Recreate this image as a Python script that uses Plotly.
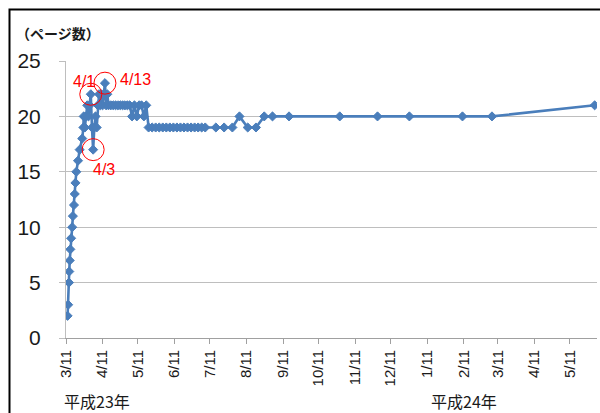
import plotly.graph_objects as go

# Page count of the published bulletin, by update time
dates = [
    "2011-03-12 08:00", "2011-03-12 20:00", "2011-03-13 12:00", "2011-03-13 18:00",
    "2011-03-14 04:00", "2011-03-14 16:00", "2011-03-15 08:00", "2011-03-16 06:00",
    "2011-03-16 20:00", "2011-03-17 18:00", "2011-03-18 10:00", "2011-03-19 00:00",
    "2011-03-19 18:00", "2011-03-21 04:00", "2011-03-22 14:00", "2011-03-24 18:00",
    "2011-03-25 18:00",
    "2011-03-26", "2011-03-27", "2011-03-28", "2011-03-29", "2011-03-30", "2011-03-31",
    "2011-04-01", "2011-04-02", "2011-04-03", "2011-04-04", "2011-04-05", "2011-04-06",
    "2011-04-07", "2011-04-08", "2011-04-09", "2011-04-10", "2011-04-11", "2011-04-12",
    "2011-04-13", "2011-04-14", "2011-04-15", "2011-04-16", "2011-04-18", "2011-04-20",
    "2011-04-22", "2011-04-24", "2011-04-26", "2011-04-28", "2011-04-30", "2011-05-02",
    "2011-05-04", "2011-05-06", "2011-05-08", "2011-05-10", "2011-05-12", "2011-05-14",
    "2011-05-16", "2011-05-18",
    "2011-05-20", "2011-05-23", "2011-05-26", "2011-05-29", "2011-06-01", "2011-06-04",
    "2011-06-07", "2011-06-10", "2011-06-13", "2011-06-16", "2011-06-19", "2011-06-22",
    "2011-06-25", "2011-06-28", "2011-07-01", "2011-07-04", "2011-07-07",
    "2011-07-16", "2011-07-23", "2011-07-30", "2011-08-05", "2011-08-12", "2011-08-19",
    "2011-08-26", "2011-09-02", "2011-09-16", "2011-10-29", "2011-11-30", "2011-12-27",
    "2012-02-10", "2012-03-06", "2012-06-01",
]
pages = [
    2, 3, 5, 6,
    7, 8, 9, 10,
    11, 12, 13, 14,
    15, 16, 17, 18,
    19,
    20, 19, 20, 21, 20, 21,
    22, 19, 17, 19, 20, 19,
    21, 22, 21, 22, 21, 22,
    23, 21, 22, 21, 21, 21,
    21, 21, 21, 21, 21, 21,
    21, 20, 21, 20, 21, 21,
    20, 21,
    19, 19, 19, 19, 19, 19,
    19, 19, 19, 19, 19, 19,
    19, 19, 19, 19, 19,
    19, 19, 19, 20, 19, 19,
    20, 20, 20, 20, 20, 20,
    20, 20, 21,
]

# Highlighted updates
marked_dates = ["2011-04-01", "2011-04-03", "2011-04-13"]
marked_labels = ["4/1", "4/3", "4/13"]
label_shift = [(-7, 13), (11, -20), (31, 4)]

x_tick_start = "2011-03-11"
x_end = "2012-06-03"
era_labels = ["平成23年", "平成24年"]
y_title = "（ページ数）"

W, H = 600, 413
L, R, T, B = 66, 3, 61, 75
PW, PH = W - L - R, H - T - B


def paper_x(p):
    return (p - L) / PW


def paper_y(p):
    return (H - B - p) / PH


BLUE = "#4A7EBB"
RED = "#FF0000"
GRID = "#BEBEBE"
TXT = "#1A1A1A"

marked_vals = [pages[dates.index(d)] for d in marked_dates]

fig = go.Figure()
fig.add_trace(go.Scatter(
    x=dates, y=pages, mode="lines+markers",
    line=dict(color=BLUE, width=2.6),
    marker=dict(symbol="diamond", size=7, color=BLUE, line=dict(color=BLUE, width=1)),
    showlegend=False, hoverinfo="skip",
))
fig.add_trace(go.Scatter(
    x=marked_dates, y=marked_vals, mode="markers",
    marker=dict(symbol="circle-open", size=22, color=RED, line=dict(color=RED, width=1)),
    showlegend=False, hoverinfo="skip",
))

annotations = []
for d, v, t, (dx, dy) in zip(marked_dates, marked_vals, marked_labels, label_shift):
    annotations.append(dict(
        x=d, y=v, xref="x", yref="y", text=t, showarrow=False,
        xshift=dx, yshift=dy,
        font=dict(family="Liberation Sans, Arial, sans-serif", size=16, color=RED),
    ))

annotations.append(dict(
    x=paper_x(14), y=paper_y(32.5), xref="paper", yref="paper", text=y_title,
    showarrow=False, xanchor="left", yanchor="middle",
    font=dict(family="Noto Sans CJK JP", size=14, color=TXT, weight="bold"),
))
annotations.append(dict(
    x=paper_x(62), y=paper_y(400.5), xref="paper", yref="paper", text=era_labels[0],
    showarrow=False, xanchor="left", yanchor="middle",
    font=dict(family="Noto Sans CJK JP", size=16, color=TXT),
))
annotations.append(dict(
    x=paper_x(429), y=paper_y(400.5), xref="paper", yref="paper", text=era_labels[1],
    showarrow=False, xanchor="left", yanchor="middle",
    font=dict(family="Noto Sans CJK JP", size=16, color=TXT),
))

fig.update_layout(
    width=W, height=H,
    margin=dict(l=L, r=R, t=T, b=B, pad=0),
    paper_bgcolor="white", plot_bgcolor="white",
    annotations=annotations,
    shapes=[dict(
        type="rect", xref="paper", yref="paper",
        x0=paper_x(9.5), x1=paper_x(640), y0=paper_y(450), y1=paper_y(9.5),
        line=dict(color="black", width=2), fillcolor="rgba(0,0,0,0)", layer="above",
    )],
    xaxis=dict(
        type="date", range=[x_tick_start, x_end],
        tick0=x_tick_start, dtick="M1", tickformat="%-m/%-d", tickangle=-90,
        ticks="outside", ticklen=5, tickcolor="#A0A0A0", tickwidth=1,
        showgrid=False, showline=True, linecolor="#A0A0A0", linewidth=1,
        zeroline=False,
        tickfont=dict(family="Liberation Sans, Arial, sans-serif", size=15, color=TXT),
    ),
    yaxis=dict(
        range=[0, 25], dtick=5, tick0=0,
        ticks="outside", ticklen=6, tickcolor=GRID, tickwidth=1,
        showgrid=True, gridcolor=GRID, gridwidth=1,
        showline=True, linecolor=GRID, linewidth=1, zeroline=False,
        ticklabelstandoff=14,
        tickfont=dict(family="Liberation Sans, Arial, sans-serif", size=21, color=TXT),
    ),
)

fig.write_html("out.html")
